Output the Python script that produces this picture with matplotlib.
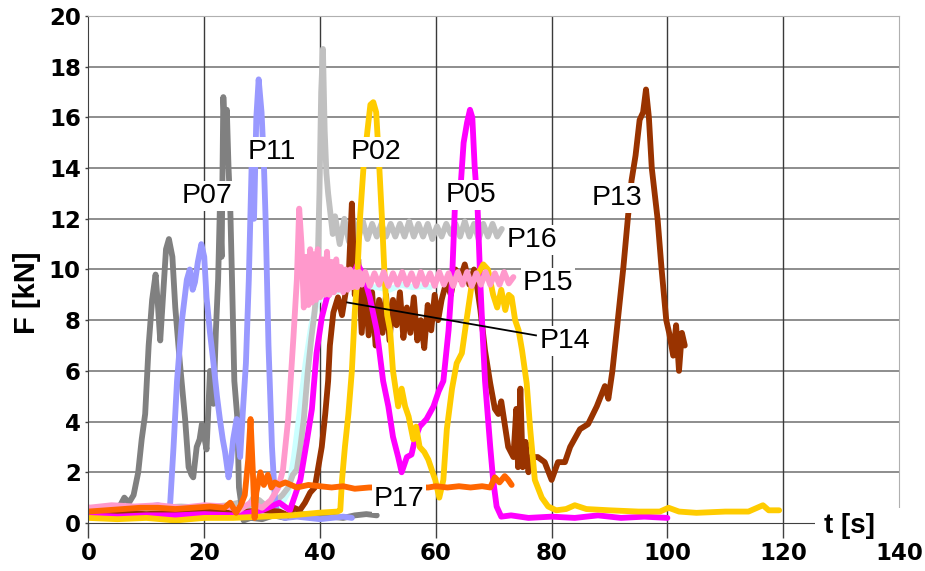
import numpy as np
import matplotlib
matplotlib.use("Agg")
import matplotlib.pyplot as plt
from matplotlib.patches import Rectangle

# P07 (grey)
p07_t = [0, 2, 4, 5.5, 6.2, 7, 7.8, 8.6, 9.2, 9.8, 10.4, 11.0, 11.6, 12.0, 12.4, 12.9, 13.4, 13.9,
         14.5, 15.0, 15.8, 16.7, 17.3, 17.8, 18.1, 18.7, 19.2, 19.6, 20.0, 20.4, 21.0, 21.6, 22.0,
         22.4, 22.7, 23.0, 23.3, 23.6, 23.9, 24.2, 24.5, 24.8, 25.2, 25.7, 26.0, 26.8, 28, 30, 32,
         34, 36, 38, 40, 42, 44, 46, 48, 49.8]
p07_f = [0.6, 0.55, 0.6, 0.7, 1.0, 0.8, 1.1, 2.0, 3.3, 4.3, 7.0, 8.8, 9.8, 8.6, 7.2, 9.0, 10.8, 11.2,
         10.5, 8.5, 6.3, 4.1, 2.2, 1.9, 1.8, 3.0, 3.3, 3.9, 3.4, 2.9, 6.0, 4.7, 7.5,
         9.6, 12.4, 10.5, 16.8, 15.2, 16.3, 14.0, 12.4, 9.6, 5.6, 4.2, 1.4, 0.1, 0.2, 0.15, 0.3,
         0.2, 0.4, 0.3, 0.2, 0.25, 0.2, 0.3, 0.35, 0.3]

# P11 (lavender)
p11_t = [0, 3, 6, 9, 12, 13.5, 14.1, 14.7, 15.3, 16.1, 17.0, 17.5, 18.0, 18.4, 18.9, 19.5, 20.0,
         20.4, 21.0, 21.6, 22.2, 22.7, 23.2, 23.6, 24.2, 24.6, 25.0, 25.6, 26.2, 26.7, 27.2, 27.7,
         28.2, 28.6, 29.0, 29.4, 29.9, 30.3, 30.6, 31.1, 31.7, 32.2, 32.6, 34, 36, 38, 40, 42,
         44, 45.5]
p11_f = [0.5, 0.6, 0.55, 0.6, 0.7, 0.6, 0.7, 3.0, 5.6, 7.9, 9.6, 10.0, 9.2, 9.5, 10.3, 11.0, 10.5,
         8.9, 7.5, 6.3, 5.0, 4.1, 3.3, 2.8, 1.8, 2.4, 3.3, 4.1, 2.6, 4.5, 6.3, 9.6,
         14.2, 12.0, 16.0, 17.5, 16.2, 14.2, 12.0, 7.0, 3.0, 1.0, 0.3, 0.2, 0.25, 0.2, 0.15, 0.2,
         0.25, 0.2]

# P16 (silver)
p16_t = [0, 4, 8, 12, 16, 20, 24, 26, 27.5, 28.5, 29.5, 30.5, 31.5, 32.5, 33.5, 34.5, 35.3, 36.0,
         36.6, 37.2, 37.9, 38.5, 39.0, 39.5, 39.9, 40.2, 40.5, 40.8, 41.1, 41.4, 41.8, 42.2,
         42.6, 43.4, 44.2, 45.0, 45.8, 46.6, 47.4, 48.2, 49.0, 49.8, 50.6, 51.4, 52.2, 53.0, 53.8,
         54.6, 55.4, 56.2, 57.0, 57.8, 58.6, 59.4, 60.2, 61.0, 61.8, 62.6, 63.4, 64.2, 65.0, 65.8,
         66.6, 67.4, 68.2, 69.0, 69.8, 70.6, 71.4]
p16_f = [0.6, 0.55, 0.6, 0.6, 0.65, 0.6, 0.7, 0.8, 0.6, 1.0, 0.9, 0.7, 0.6, 0.9, 1.1, 1.4, 1.9, 2.1,
         3.0, 4.1, 6.0, 7.3, 8.2, 9.4, 13.0, 17.0, 18.7, 15.5, 13.8, 13.0, 12.2, 11.4,
         12.1, 11.0, 12.0, 11.1, 11.9, 11.2, 11.9, 11.2, 11.8, 11.3, 11.8, 11.3, 11.8, 11.3, 11.8,
         11.3, 11.9, 11.3, 11.8, 11.3, 11.8, 11.2, 11.7, 11.3, 11.8, 11.4, 11.8, 11.3, 11.9, 11.3,
         11.8, 11.2, 11.8, 11.3, 11.8, 11.3, 11.6]

# P15 (pink)
p15_t = [0, 4, 8, 12, 16, 20, 24, 26, 28, 30, 31.5, 32.8, 33.6, 34.5, 35.4, 36.0, 36.4, 36.8, 37.2,
         37.6, 38.0, 38.3, 38.6, 38.9, 39.3, 39.6, 40.0, 40.4, 40.8, 41.2, 41.6, 42.0, 42.4, 42.8,
         43.2, 43.6, 44.0, 44.4, 44.8, 45.2, 45.6, 46.0, 46.4, 46.8, 47.2,
         47.8, 48.6, 49.4, 50.2, 51.0, 51.8, 52.6, 53.4, 54.2, 55.0, 55.8, 56.6, 57.4, 58.2, 59.0,
         59.8, 60.6, 61.4, 62.2, 63.0, 63.8, 64.6, 65.4, 66.2, 67.0, 67.8, 68.6, 69.4, 70.2, 71.0,
         71.8, 72.6, 73.4]
p15_f = [0.6, 0.7, 0.65, 0.7, 0.6, 0.7, 0.65, 0.5, 0.8, 0.6, 0.9, 1.4, 2.1, 4.1, 7.3, 9.6, 12.4, 11.0,
         8.5, 10.5, 8.6, 10.8, 8.7, 10.6, 8.8, 10.8, 8.9, 10.4, 9.0, 10.7, 9.0, 10.3, 9.1, 10.4,
         9.2, 10.1, 9.1, 10.0, 9.2, 10.0, 9.3, 9.9, 9.3, 9.9, 9.4,
         9.9, 9.35, 9.85, 9.4, 9.9, 9.35, 9.85, 9.4, 9.9, 9.4, 9.85, 9.35, 9.9, 9.4, 9.85,
         9.35, 9.9, 9.4, 9.85, 9.35, 9.9, 9.4, 9.9, 9.35, 9.85, 9.4, 9.9, 9.4, 9.85, 9.4,
         9.9, 9.45, 9.7]

# P14 (light cyan)
p14_t = [0, 5, 10, 15, 20, 25, 30, 33, 34.5, 35.5, 36.5, 37.5, 38.5, 39.5, 40.5, 42, 44, 46, 48,
         50, 52, 54, 56, 58, 59]
p14_f = [0.35, 0.4, 0.35, 0.4, 0.45, 0.4, 0.5, 0.6, 1.2, 2.6, 4.4, 6.3, 7.8, 8.7, 9.0, 9.1, 9.2,
         9.4, 9.3, 9.3, 9.2, 9.4, 9.3, 9.35, 9.3]

# P02 (gold)
p02_t = [0, 5, 10, 15, 20, 25, 30, 35, 39.6, 43.0, 43.5, 43.8, 44.3, 44.9, 45.5, 46.0, 46.4, 46.9,
         47.5, 48.2, 48.7, 49.2, 49.7, 50.2, 50.7, 51.2, 51.6, 52.1, 52.6, 53.5, 54.1, 54.7, 55.3,
         56.1, 56.6, 57.2, 58.0, 58.7, 59.9, 60.6, 61.3, 61.9, 62.8, 63.6, 64.5, 65.3, 66.2, 67.2,
         68.2, 69.0, 69.9, 70.6, 71.3, 72.0, 72.6, 73.1, 73.7, 74.3, 74.9, 75.7, 76.3, 77.1, 78.3,
         79.4, 80.8, 82.5, 84, 86, 90, 95, 98.7, 100.2, 102, 105, 110, 114, 116.5, 117.5, 119.3]
p02_f = [0.2, 0.15, 0.2, 0.1, 0.2, 0.2, 0.25, 0.3, 0.4, 0.45, 0.5, 1.7, 3.0, 4.3, 6.0, 8.3, 9.6, 12.0,
         14.0, 15.5, 16.5, 16.6, 16.2, 14.2, 12.0, 9.5, 8.2, 7.6, 6.0, 4.6, 5.3, 4.6, 4.2,
         3.3, 3.8, 3.0, 2.8, 2.5, 1.7, 1.0, 1.7, 3.7, 5.3, 6.3, 6.7, 8.0, 9.4, 9.8,
         10.2, 10.0, 9.0, 8.5, 9.2, 8.4, 9.0, 8.9, 8.0, 7.6, 6.8, 5.5, 3.7, 1.7, 1.0,
         0.65, 0.5, 0.55, 0.7, 0.55, 0.5, 0.45, 0.45, 0.6, 0.45, 0.4, 0.45, 0.45, 0.7, 0.5, 0.5]

# P05 (magenta)
p05_t = [0, 5, 10, 15, 20, 25, 30, 33, 34.8, 35.4, 36.6, 37.7, 38.6, 39.4, 40.3, 41.2, 42.5, 44,
         45.5, 46.5, 47.5, 48.6, 49.8, 50.9, 51.8, 52.6, 53.5, 54.1, 55.0, 55.8, 56.4, 57.2, 58.4,
         59.6, 60.5, 61.3, 62.2, 62.8, 63.3, 64.2, 64.8, 65.4, 65.9, 66.3, 66.7, 67.2, 67.7, 68.1,
         68.5, 69.4, 69.9, 70.5, 71.3, 73, 76, 80, 84, 88, 92, 96, 100]
p05_f = [0.3, 0.25, 0.3, 0.3, 0.35, 0.3, 0.5, 0.8, 0.5, 0.9, 1.7, 3.2, 4.5, 6.7, 8.1, 8.9, 9.3, 9.5,
         9.7, 10.2, 9.8, 8.9, 7.6, 5.6, 4.6, 3.4, 2.6, 2.0, 2.6, 2.7, 3.3, 3.8, 4.1,
         4.6, 5.2, 5.6, 7.6, 9.6, 12.5, 13.0, 15.0, 15.8, 16.3, 16.0, 14.1, 12.5, 9.4, 7.4,
         5.6, 3.0, 1.7, 0.65, 0.25, 0.3, 0.2, 0.25, 0.2, 0.3, 0.2, 0.25, 0.2]

# P13 (brown)
p13_t = [0, 5, 10, 15, 20, 25, 30, 33, 34.5, 35.5, 36.5, 37.4, 38.3, 39.1, 39.7, 40.3, 40.9, 41.4,
         41.7, 42.3, 43.1, 43.8, 44.5, 45.0, 45.5, 46.0, 46.6, 47.2, 47.8, 48.4, 49.0, 49.6, 50.2,
         50.8, 51.4, 52.0, 52.6, 53.2, 53.8, 54.4, 55.0, 55.6, 56.2, 56.8, 57.4, 58.0, 58.6, 59.2,
         59.8, 60.4, 61.0, 61.8, 62.6, 63.4, 64.2, 65.0, 65.8, 66.6, 67.2, 67.7, 68.5, 69.4, 70.2,
         70.8, 71.3, 71.9, 72.5, 73.4, 73.9, 74.2, 74.6, 75.0, 75.5, 76.0, 76.5, 77.6, 78.8, 80.0,
         81.1, 82.3, 83.2, 84.9, 86.3, 87.8, 89.2, 89.8, 90.5, 91.2, 92.4, 93.2, 93.8, 94.5, 95.2,
         95.8, 96.3, 96.8, 97.3, 97.8, 98.3, 99.0, 99.8, 100.3, 101.0, 101.5, 102.0, 102.5, 103.0]
p13_f = [0.35, 0.4, 0.35, 0.4, 0.45, 0.4, 0.5, 0.45, 0.3, 0.6, 0.5, 0.8, 1.2, 1.4, 2.2, 3.0, 4.3, 5.6,
         7.0, 8.3, 8.9, 8.2, 9.2, 10.0, 12.6, 9.0, 10.4, 7.5, 9.5, 7.4, 9.1, 7.0, 8.8,
         7.5, 9.0, 7.2, 8.8, 7.8, 9.1, 7.3, 8.5, 7.5, 8.9, 7.2, 8.0, 6.9, 8.6, 7.6,
         9.0, 8.0, 8.8, 9.5, 9.0, 10.0, 9.6, 10.2, 9.4, 10.0, 9.2, 8.4, 6.8, 5.5, 4.5,
         4.3, 4.8, 3.9, 3.0, 2.6, 4.5, 2.2, 5.3, 2.2, 3.2, 2.0, 2.6, 2.6, 2.4, 1.7,
         2.4, 2.4, 3.0, 3.7, 3.9, 4.6, 5.4, 4.9, 6.0, 7.5, 10.1, 12.1, 13.5, 14.5, 15.9,
         16.2, 17.1, 16.0, 14.0, 13.0, 12.0, 10.0, 8.0, 7.5, 6.6, 7.8, 6.0, 7.5, 7.0]

# P17 (orange)
p17_t = [0, 3, 6, 9, 12, 15, 18, 21, 23.5, 24.5, 25.5, 26.3, 27.0, 27.6, 28.0, 28.4, 28.7, 29.0,
         29.7, 30.3, 31.0, 31.6, 32.2, 33.0, 34, 36, 38, 40, 42, 44, 46, 48.5, 52, 55, 58.7, 60, 62,
         64, 66, 68, 69.4, 70.2, 71.0, 71.9, 72.5, 73.1]
p17_f = [0.45, 0.5, 0.55, 0.6, 0.6, 0.55, 0.6, 0.65, 0.6, 0.8, 0.4, 0.7, 1.1, 2.5, 4.1, 2.0, 0.2, 1.2,
         2.0, 1.5, 1.9, 1.4, 1.6, 1.5, 1.6, 1.4, 1.5, 1.45, 1.4, 1.45, 1.35, 1.4, 1.4, 1.4, 1.4, 1.45,
         1.4, 1.45, 1.4, 1.45, 1.4, 1.8, 1.6, 1.85, 1.7, 1.5]

x_ticks = [0, 20, 40, 60, 80, 100, 120, 140]
y_ticks = [0, 2, 4, 6, 8, 10, 12, 14, 16, 18, 20]

fig = plt.figure(figsize=(9.25, 5.71), dpi=100)
ax = fig.add_axes([0.0956, 0.0841, 0.8763, 0.8879])
ax.set_xlim(0, 140)
ax.set_ylim(0, 20)

# gridlines
for y in y_ticks[1:]:
    ax.axhline(y, color='#7a7a7a', lw=1.2, zorder=0.5)
for x in x_ticks[1:-1]:
    ax.axvline(x, color='#3a3a3a', lw=1.0, zorder=0.5)

lw = 4.2
series = [
    (p14_t, p14_f, '#CCFFFF'),
    (p16_t, p16_f, '#C0C0C0'),
    (p07_t, p07_f, '#808080'),
    (p11_t, p11_f, '#9999FF'),
    (p13_t, p13_f, '#993300'),
    (p05_t, p05_f, '#FF00FF'),
    (p02_t, p02_f, '#FFCC00'),
    (p15_t, p15_f, '#FF99CC'),
    (p17_t, p17_f, '#FF6600'),
]
for t, f, c in series:
    ax.plot(t, f, color=c, lw=lw, solid_joinstyle='round', solid_capstyle='round', zorder=2)

# spines and ticks
for s in ['left', 'bottom']:
    ax.spines[s].set_color('#404040')
for s in ['top', 'right']:
    ax.spines[s].set_color('#b0b0b0')
ax.set_xticks(x_ticks)
ax.set_yticks(y_ticks)
ax.tick_params(axis='x', length=11, width=1, color='#404040', pad=3)
ax.tick_params(axis='y', length=2.5, width=1, color='#404040', pad=3)
for lab in ax.get_xticklabels() + ax.get_yticklabels():
    lab.set_fontfamily('DejaVu Sans')
    lab.set_fontweight('bold')
    lab.set_fontsize(16.5)

# white patch behind the x axis title
ax.add_patch(Rectangle((125.5, -0.65), 16, 1.25, facecolor='white', edgecolor='none',
                       zorder=3, clip_on=False))
ax.text(131.5, -0.4, 't [s]', ha='center', va='baseline', fontsize=20,
        fontweight='bold', family=['Liberation Sans', 'DejaVu Sans'], zorder=4, clip_on=False)
ax.text(-0.0753, 0.454, 'F [kN]', transform=ax.transAxes, rotation=90, ha='center',
        va='center', fontsize=21, fontweight='bold', family=['Liberation Sans', 'DejaVu Sans'])

# series labels sit on white boxes that hide the traces behind them
label_font = dict(fontsize=20.5, family=['Liberation Sans', 'DejaVu Sans'],
                  ha='center', va='baseline', zorder=5,
                  bbox=dict(facecolor='white', edgecolor='none', pad=1.2))
labels = [('P07', 20.5, 12.62), ('P11', 31.7, 14.36), ('P02', 49.7, 14.36),
          ('P05', 66.1, 12.66), ('P13', 91.3, 12.55), ('P16', 76.6, 10.89),
          ('P15', 79.3, 9.19), ('P14', 82.3, 6.9), ('P17', 53.6, 0.68)]
for name, x, y in labels:
    ax.text(x, y, name, **label_font)

# pointer for P14
ax.plot([44.7, 77.3], [8.7, 7.4], color='black', lw=1.3, zorder=4)

fig.savefig('out.png', dpi=100)
